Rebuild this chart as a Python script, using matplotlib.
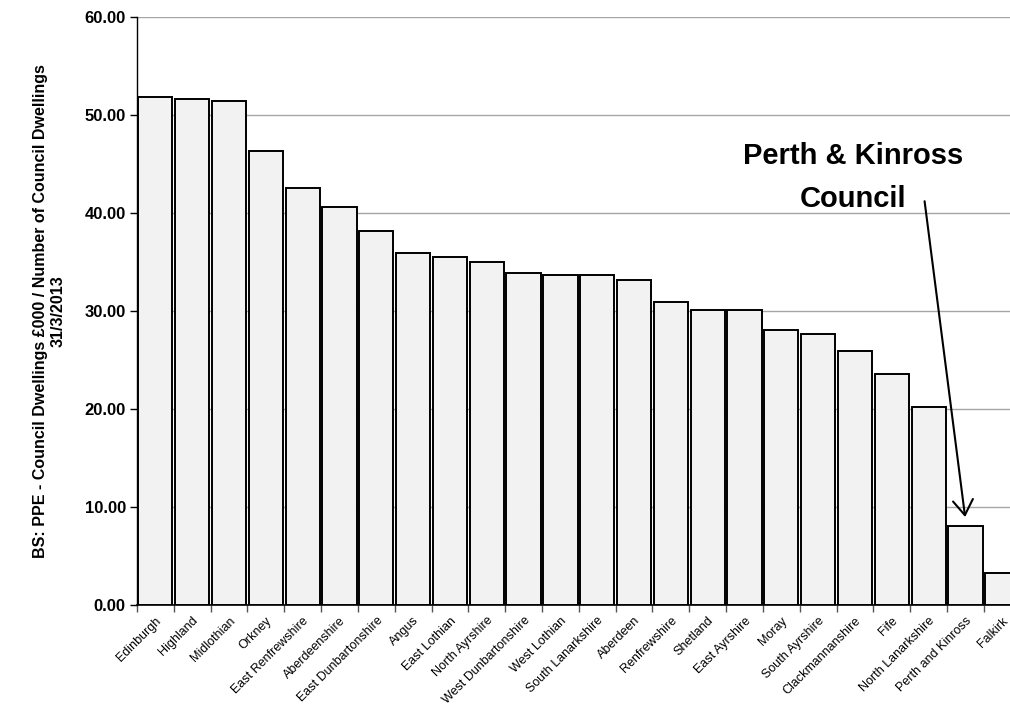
import numpy as np
import matplotlib.pyplot as plt
from matplotlib.ticker import FixedLocator, FormatStrFormatter

plt.rcParams['font.family'] = ['Liberation Sans', 'DejaVu Sans']

# Councils and values (BS: PPE per council dwelling, £000)
councils = ['Edinburgh', 'Highland', 'Midlothian', 'Orkney', 'East Renfrewshire',
            'Aberdeenshire', 'East Dunbartonshire', 'Angus', 'East Lothian',
            'North Ayrshire', 'West Dunbartonshire', 'West Lothian',
            'South Lanarkshire', 'Aberdeen', 'Renfrewshire', 'Shetland',
            'East Ayrshire', 'Moray', 'South Ayrshire', 'Clackmannanshire',
            'Fife', 'North Lanarkshire', 'Perth and Kinross', 'Falkirk']
values = [51.9, 51.7, 51.4, 46.3, 42.6, 40.6, 38.2, 35.9, 35.5, 35.0, 33.9, 33.7,
          33.7, 33.2, 30.9, 30.1, 30.1, 28.1, 27.7, 25.9, 23.6, 20.2, 8.1, 3.3]
yticks = [0, 10, 20, 30, 40, 50, 60]

fig = plt.figure(figsize=(10.1, 7.09), dpi=100)
ax = fig.add_axes([0.1356, 0.1467, 0.875, 0.829])

x = np.arange(len(councils))
ax.bar(x, values, width=0.93, color='#f2f2f2', edgecolor='black', linewidth=1.4, zorder=3)

ax.set_xlim(-0.5, len(councils) - 0.5)
ax.set_ylim(0, 60)
ax.set_yticks(yticks)
ax.yaxis.set_major_formatter(FormatStrFormatter('%.2f'))
for lab in ax.get_yticklabels():
    lab.set_fontweight('bold')
    lab.set_fontsize(12)
ax.tick_params(axis='y', direction='out', length=5, width=1, pad=3)
ax.yaxis.grid(True, color='#a6a6a6', linewidth=1, zorder=0)

ax.set_xticks(x)
ax.set_xticklabels(councils, rotation=45, ha='right', rotation_mode='anchor', fontsize=9)
ax.tick_params(axis='x', which='major', length=0, pad=7)
ax.xaxis.set_minor_locator(FixedLocator(np.arange(-0.5, len(councils), 1)))
ax.tick_params(axis='x', which='minor', direction='out', length=5, width=1, color='#555555')

ax.spines['top'].set_visible(False)
ax.spines['right'].set_visible(False)
ax.spines['left'].set_linewidth(1)
ax.spines['bottom'].set_linewidth(1.2)

ax.set_ylabel('BS: PPE - Council Dwellings £000 / Number of Council Dwellings\n31/3/2013',
              fontsize=11.5, fontweight='bold', labelpad=14)

# annotation for Perth & Kinross
ax.text(18.95, 45.8, 'Perth & Kinross', fontsize=21, fontweight='bold', ha='center', va='center')
ax.text(18.95, 41.4, 'Council', fontsize=21, fontweight='bold', ha='center', va='center')
ax.annotate('', xy=(22, 8.7), xytext=(20.88, 41.5),
            arrowprops=dict(arrowstyle='->,head_length=0.36,head_width=0.24',
                            color='black', lw=1.5, mutation_scale=30))

fig.savefig('out.png', dpi=100)
